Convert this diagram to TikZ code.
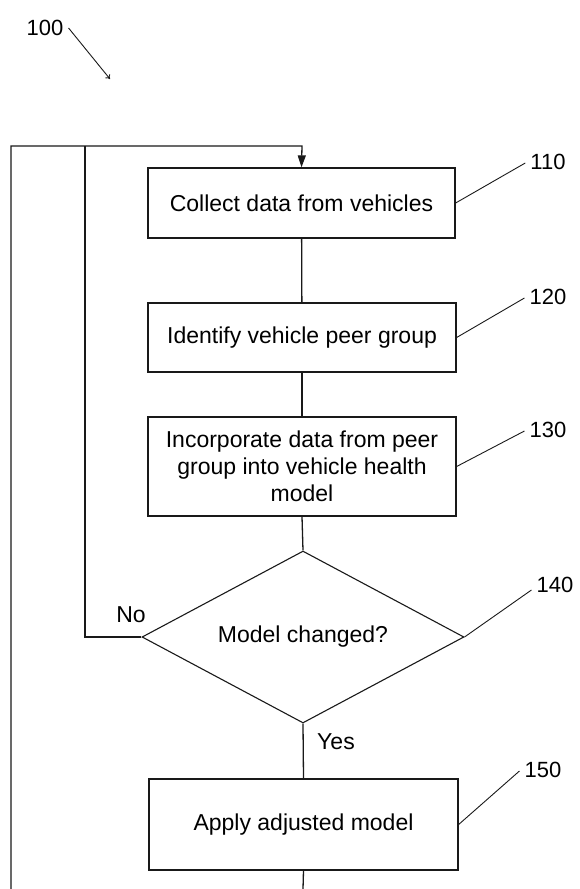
\documentclass[tikz,border=0pt]{standalone}
\usepackage{fontspec}
\setmainfont{Liberation Sans}
\usetikzlibrary{shapes.geometric,arrows.meta,calc}

\tikzset{
  flow/.style={line width=1.3pt, draw=black!90},
  stepbox/.style={draw=black!90, line width=1.3pt, rectangle, inner sep=0pt,
    align=center, font=\fontsize{23}{27}\selectfont},
  decision/.style={draw=black!90, line width=1.1pt, diamond, inner sep=0pt,
    aspect=1.87, font=\fontsize{23}{27}\selectfont},
  refnum/.style={font=\fontsize{22}{26}\selectfont, inner sep=0pt},
  branch/.style={font=\fontsize{23}{26}\selectfont, inner sep=0pt},
  leader/.style={line width=0.9pt, draw=black!90},
}

\begin{document}
\begin{tikzpicture}[x=1pt, y=-1pt]
  \useasboundingbox (0,0) rectangle (579,889);

  % process steps
  \node[stepbox, minimum width=307pt, minimum height=70pt] (b110) at (301.5,203)
    {Collect data from vehicles};
  \node[stepbox, minimum width=308pt, minimum height=69pt] (b120) at (302,337.5)
    {Identify vehicle peer group};
  \node[stepbox, minimum width=308pt, minimum height=99pt] (b130) at (302,466.5)
    {Incorporate data from peer\\group into vehicle health\\model};
  \node[decision, minimum width=322pt, minimum height=172pt] (d140) at (303,637)
    {Model changed?};
  \node[stepbox, minimum width=309pt, minimum height=91pt] (b150) at (303.5,824.5)
    {Apply adjusted model};

  % reference numerals
  \node[refnum] (l100) at (45,28) {100};
  \node[refnum] (l110) at (548,162) {110};
  \node[refnum] (l120) at (548,297) {120};
  \node[refnum] (l130) at (548,430) {130};
  \node[refnum] (l140) at (555,585) {140};
  \node[refnum] (l150) at (543,770) {150};

  % branch labels
  \node[branch] (no) at (131,615) {No};
  \node[branch] (yes) at (336,742) {Yes};

  % loop-back corners and open ends
  \coordinate (topR) at (302,146);
  \coordinate (outerL) at (11,146);
  \coordinate (innerL) at (85,146);
  \coordinate (noCorner) at (85,637);
  \coordinate (outerEnd) at (11,889);
  \coordinate (downEnd) at (303,889);
  \coordinate (fig) at (110,79);

  % main flow
  \draw[flow] (b110) -- (b120);
  \draw[flow] (b120) -- (b130);
  \draw[flow] (b130.south) -- (d140.north);
  \draw[flow] (d140.south) -- (b150.north);
  \draw[flow] (b150.south) -- (downEnd);

  % return paths to the first step
  \draw[flow, -{Triangle[length=12pt, width=8pt]}]
    (outerEnd) -- (outerL) -- (topR) -- (b110.north);
  \draw[flow] (d140.west) -- (noCorner) -- (innerL);

  % leader lines
  \draw[leader, -{To[length=4pt, width=6pt]}] ($(l100.east)+(5,0)$) -- (fig);
  \draw[leader] (b110.east) -- ($(l110.west)+(-5,1)$);
  \draw[leader] (b120.east) -- ($(l120.west)+(-5,1)$);
  \draw[leader] (b130.east) -- ($(l130.west)+(-5,1)$);
  \draw[leader] (d140.east) -- ($(l140.west)+(-5,5)$);
  \draw[leader] (b150.east) -- ($(l150.west)+(-5,1)$);
\end{tikzpicture}
\end{document}
